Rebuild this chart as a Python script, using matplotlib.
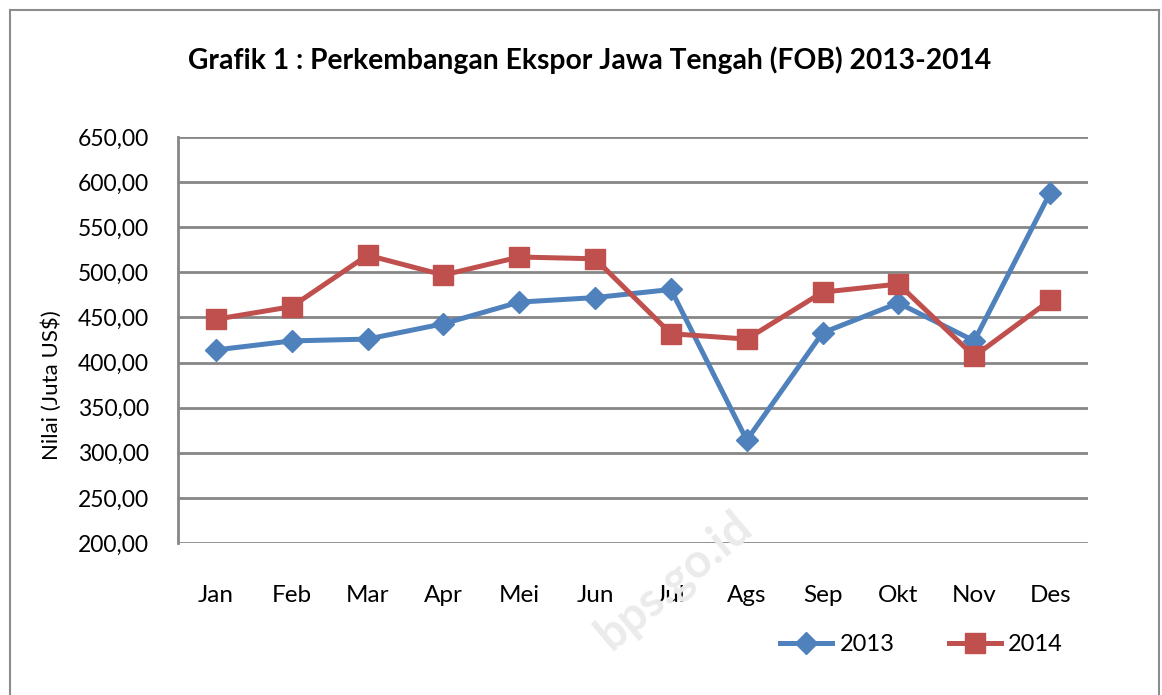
import matplotlib.pyplot as plt
from matplotlib.lines import Line2D

# data (Juta US$)
months = ['Jan', 'Feb', 'Mar', 'Apr', 'Mei', 'Jun', 'Jul', 'Ags', 'Sep', 'Okt', 'Nov', 'Des']
ekspor_2013 = [414, 424, 426, 443, 467, 472, 481, 314, 433, 466, 424, 588]
ekspor_2014 = [448, 462, 519, 497, 517, 515, 432, 426, 478, 487, 407, 469]
yticks = [200, 250, 300, 350, 400, 450, 500, 550, 600, 650]

blue = '#4F81BD'
red = '#C0504D'
grid_col = '#868686'

plt.rcParams['font.family'] = ['Lato', 'DejaVu Sans']

fig = plt.figure(figsize=(11.62, 6.95), dpi=100)
ax = fig.add_axes([178 / 1162, 1 - 543 / 695, (1088 - 178) / 1162, (543 - 137) / 695])

x = range(len(months))
ax.plot(x, ekspor_2013, color=blue, lw=3.6, marker='D', ms=11, mfc=blue, mec=blue,
        label='2013', zorder=3)
ax.plot(x, ekspor_2014, color=red, lw=3.6, marker='s', ms=14, mfc=red, mec=red,
        label='2014', zorder=4)

ax.set_xlim(-0.5, 11.5)
ax.set_ylim(200, 650)
ax.set_yticks(yticks)
ax.set_yticklabels([f'{v:.2f}'.replace('.', ',') for v in yticks], fontsize=16.5)
ax.set_xticks(list(x))
ax.set_xticklabels(months, fontsize=17.5)
ax.tick_params(axis='y', length=0, pad=21)
ax.tick_params(axis='x', length=0, pad=30)

ax.grid(axis='y', color=grid_col, lw=2)
ax.set_axisbelow(True)
for s in ['top', 'right', 'bottom']:
    ax.spines[s].set_visible(False)
ax.spines['left'].set_color(grid_col)
ax.spines['left'].set_linewidth(2)

ax.set_ylabel('Nilai (Juta US$)', fontsize=16)
ax.yaxis.set_label_coords(-0.128, 0.39)

fig.text(0.5075, 0.913, 'Grafik 1 : Perkembangan Ekspor Jawa Tengah (FOB) 2013-2014',
         ha='center', va='center', fontsize=20.3, fontweight='bold')

# legend
handles = [Line2D([], [], color=blue, lw=3.6, marker='D', ms=11),
           Line2D([], [], color=red, lw=3.6, marker='s', ms=14)]
fig.legend(handles, ['2013', '2014'], loc='center', bbox_to_anchor=(0.793, 0.072),
           ncol=2, frameon=False, fontsize=17, handlelength=2.2, columnspacing=2.3,
           handletextpad=0.3)

# watermark
fig.text(0.58, 0.165, 'bps.go.id', rotation=40, ha='center', va='center',
         fontsize=34, fontweight='bold', color='#ebebeb', zorder=0)

# outer chart frame
fig.add_artist(Line2D([10 / 1162, 10 / 1162], [0, 1 - 10 / 695], color='#8c8c8c', lw=1.5,
                      transform=fig.transFigure))
fig.add_artist(Line2D([10 / 1162, 1159 / 1162], [1 - 10 / 695, 1 - 10 / 695], color='#8c8c8c',
                      lw=1.5, transform=fig.transFigure))
fig.add_artist(Line2D([1159 / 1162, 1159 / 1162], [0, 1 - 10 / 695], color='#8c8c8c', lw=1.5,
                      transform=fig.transFigure))

fig.savefig('out.png', dpi=100)
